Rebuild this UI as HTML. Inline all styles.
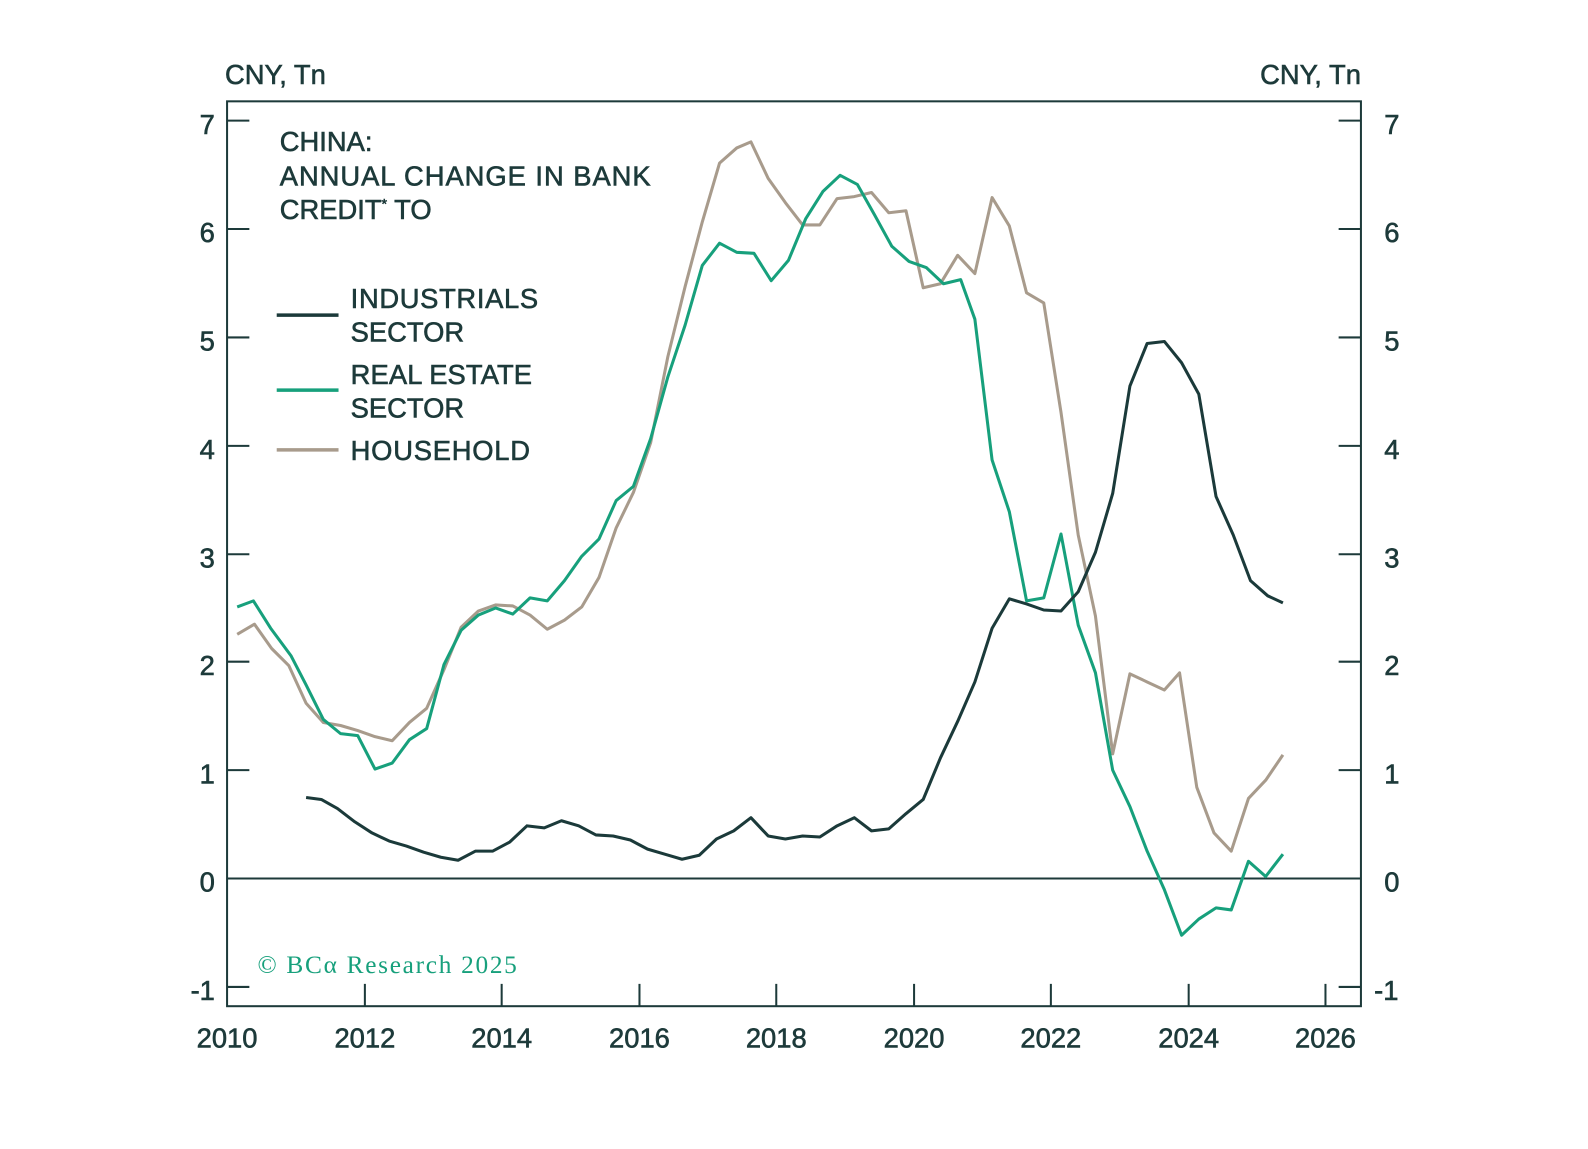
<!DOCTYPE html>
<html><head><meta charset="utf-8"><style>
body{margin:0;background:#fff;}
svg text{font-family:"Liberation Sans",sans-serif;fill:#1d3a3a;stroke:#1d3a3a;stroke-width:0.6px;}
</style></head><body>
<svg width="1588" height="1144" viewBox="0 0 1567 1129" xmlns="http://www.w3.org/2000/svg">
<rect width="1588" height="1144" fill="#fff"/>
<g stroke="#1d3a3a" stroke-width="2" fill="none">
<rect x="224" y="100" width="1119" height="893"/>
<line x1="224" y1="867" x2="1343" y2="867"/>
<path d="M224 119h22M224 226h22M224 333h22M224 440h22M224 547h22M224 653h22M224 760h22M224 974h22
M1321 119h22M1321 226h22M1321 333h22M1321 440h22M1321 547h22M1321 653h22M1321 760h22M1321 974h22
M360 993v-22M495 993v-22M631 993v-22M766 993v-22M902 993v-22M1037 993v-22M1173 993v-22M1308 993v-22"/>
</g>
<g font-size="27">
<text x="222" y="83">CNY, Tn</text>
<text x="1343" y="83" text-anchor="end">CNY, Tn</text>
<g text-anchor="end"><text x="212" y="132">7</text><text x="212" y="239">6</text><text x="212" y="346">5</text><text x="212" y="453">4</text><text x="212" y="560">3</text><text x="212" y="666">2</text><text x="212" y="773">1</text><text x="212" y="880">0</text><text x="212" y="987">-1</text></g>
<g><text x="1366" y="132">7</text><text x="1366" y="239">6</text><text x="1366" y="346">5</text><text x="1366" y="453">4</text><text x="1366" y="560">3</text><text x="1366" y="666">2</text><text x="1366" y="773">1</text><text x="1366" y="880">0</text><text x="1356" y="987">-1</text></g>
<g text-anchor="middle"><text x="224" y="1034">2010</text><text x="360" y="1034">2012</text><text x="495" y="1034">2014</text><text x="631" y="1034">2016</text><text x="766" y="1034">2018</text><text x="902" y="1034">2020</text><text x="1037" y="1034">2022</text><text x="1173" y="1034">2024</text><text x="1308" y="1034">2026</text></g>
</g>
<g font-size="27">
<text x="276" y="149">CHINA:</text>
<text x="276" y="183" textLength="366">ANNUAL CHANGE IN BANK</text>
<text x="276" y="216">CREDIT<tspan font-size="14" dy="-10">*</tspan><tspan dy="10"> TO</tspan></text>
<text x="346" y="304" textLength="185">INDUSTRIALS</text><text x="346" y="337">SECTOR</text>
<text x="346" y="379" textLength="179">REAL ESTATE</text><text x="346" y="412">SECTOR</text>
<text x="346" y="454" textLength="177">HOUSEHOLD</text>
</g>
<line x1="273" y1="311" x2="334" y2="311" stroke="#1b3a3a" stroke-width="3.5"/>
<line x1="273" y1="385" x2="334" y2="385" stroke="#17a07c" stroke-width="3.5"/>
<line x1="273" y1="444" x2="334" y2="444" stroke="#a89b8c" stroke-width="3.5"/>
<text x="254" y="960" font-size="25" textLength="256" style="font-family:'Liberation Serif',serif;fill:#17a07c;stroke:none">© BCα Research 2025</text>
<g fill="none" stroke-width="3" stroke-linejoin="round">
<polyline stroke="#a89b8c" points="234,626 251,616 268,640 285,657 302,694 319,713 336,716 353,721 370,727 387,731 404,713 421,699 438,661 455,619 472,603 489,597 506,598 523,607 540,621 557,612 574,599 591,570 608,521 625,486 642,437 659,352 676,283 693,219 710,161 727,146 741,140 758,176 775,200 792,222 809,222 826,196 843,194 860,190 877,210 894,208 911,284 928,280 945,252 962,270 979,195 996,223 1013,289 1030,299 1047,407 1064,528 1081,608 1098,744 1115,665 1132,673 1149,681 1164,664 1181,777 1198,822 1215,840 1232,788 1249,770 1266,745"/>
<polyline stroke="#17a07c" points="234,599 250,593 267,620 287,647 302,676 319,710 336,724 353,726 370,759 387,753 404,730 421,719 438,656 455,622 472,607 489,600 506,606 523,590 540,593 557,573 574,549 591,532 608,494 625,480 642,433 659,372 676,321 693,262 710,240 727,249 744,250 761,277 778,257 795,216 812,189 829,173 846,182 863,212 880,243 897,258 914,264 931,280 948,276 962,315 979,454 996,505 1013,593 1030,590 1047,527 1064,617 1081,664 1098,760 1115,796 1132,840 1149,878 1166,923 1183,907 1200,896 1215,898 1232,850 1249,865 1266,843"/>
<polyline stroke="#1b3a3a" points="302,787 317,789 333,798 350,811 367,822 384,830 401,835 418,841 435,846 452,849 469,840 486,840 503,831 520,815 537,817 554,810 571,815 588,824 605,825 622,829 639,838 656,843 673,848 690,844 707,828 724,820 741,807 758,825 775,828 792,825 809,826 826,815 843,807 860,820 877,818 894,803 911,789 928,748 945,712 962,673 979,620 996,591 1013,596 1030,602 1047,603 1064,584 1081,545 1098,487 1115,381 1132,339 1149,337 1166,358 1183,389 1200,490 1217,528 1234,573 1251,588 1266,595"/>
</g>
</svg>
</body></html>
